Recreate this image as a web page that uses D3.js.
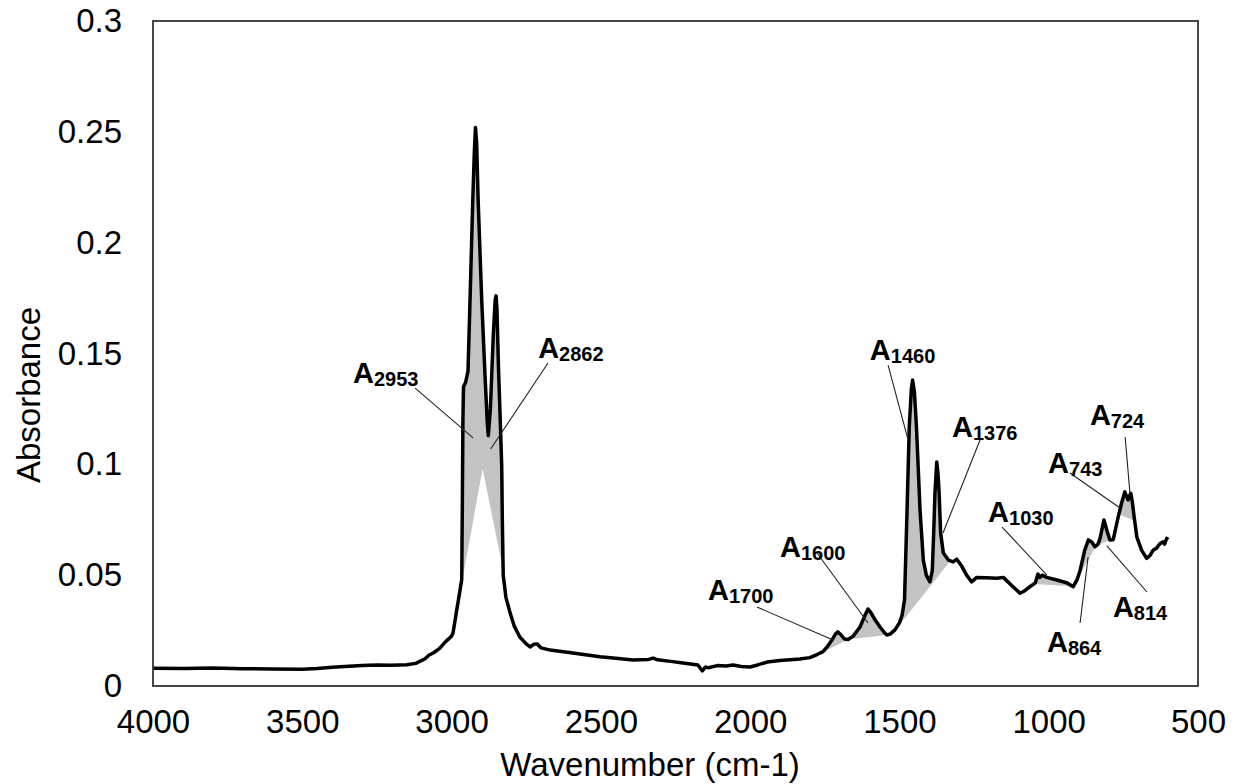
<!DOCTYPE html>
<html>
<head>
  <meta charset="UTF-8">
  <script src="https://d3js.org/d3.v7.min.js"></script>
  <title>FTIR spectrum</title>
  <style type="text/css">
    html, body { margin:0; padding:0; background:#fff; }
    svg text { font-family: "Liberation Sans", Arial, sans-serif; }
  </style>
</head>
<body>
<div id="chart"></div>
<script>
// spectrum: [wavenumber, absorbance]
var spectrum = [
  [4000,0.0080],[3900,0.0079],[3800,0.0081],[3700,0.0078],[3600,0.0077],[3500,0.0076],
  [3450,0.0079],[3400,0.0085],[3300,0.0093],[3250,0.0095],[3200,0.0094],[3150,0.0096],
  [3120,0.0102],[3090,0.0122],[3075,0.0140],[3060,0.0150],[3040,0.0170],[3020,0.0200],
  [3000,0.0225],[2995,0.0240],[2983,0.0340],[2972,0.0430],[2966,0.0480],[2964,0.0800],
  [2962,0.1200],[2960,0.1350],[2953,0.1370],[2945,0.1420],[2938,0.1750],[2929,0.2190],
  [2924,0.2400],[2920,0.2520],[2916,0.2450],[2911,0.2190],[2899,0.1740],[2888,0.1400],
  [2880,0.1180],[2877,0.1130],[2870,0.1250],[2865,0.1420],[2860,0.1590],[2854,0.1740],
  [2851,0.1760],[2848,0.1700],[2843,0.1440],[2837,0.1200],[2832,0.0990],[2830,0.0750],
  [2827,0.0500],[2818,0.0400],[2804,0.0330],[2790,0.0270],[2771,0.0220],[2750,0.0190],
  [2737,0.0176],[2725,0.0188],[2714,0.0190],[2700,0.0172],[2670,0.0162],[2600,0.0150],
  [2503,0.0132],[2450,0.0125],[2392,0.0117],[2340,0.0120],[2325,0.0126],[2310,0.0118],
  [2260,0.0110],[2225,0.0104],[2175,0.0095],[2160,0.0068],[2150,0.0086],[2140,0.0082],
  [2110,0.0092],[2080,0.0090],[2057,0.0095],[2030,0.0088],[2000,0.0086],[1975,0.0095],
  [1943,0.0108],[1900,0.0115],[1833,0.0122],[1800,0.0128],[1776,0.0142],[1756,0.0155],
  [1740,0.0180],[1726,0.0207],[1714,0.0235],[1706,0.0244],[1695,0.0230],[1684,0.0212],
  [1672,0.0210],[1655,0.0225],[1632,0.0266],[1615,0.0320],[1605,0.0347],[1595,0.0330],
  [1580,0.0295],[1565,0.0266],[1550,0.0240],[1542,0.0230],[1530,0.0235],[1515,0.0253],
  [1500,0.0285],[1491,0.0320],[1483,0.0388],[1476,0.0718],[1467,0.1170],[1460,0.1340],
  [1456,0.1380],[1450,0.1330],[1443,0.1170],[1431,0.0794],[1420,0.0568],[1410,0.0500],
  [1398,0.0470],[1390,0.0520],[1385,0.0700],[1381,0.0870],[1375,0.1010],[1371,0.0960],
  [1367,0.0870],[1362,0.0690],[1353,0.0600],[1336,0.0568],[1320,0.0560],[1308,0.0572],
  [1291,0.0540],[1275,0.0500],[1258,0.0470],[1241,0.0490],[1210,0.0488],[1174,0.0486],
  [1152,0.0490],[1125,0.0455],[1096,0.0418],[1080,0.0430],[1063,0.0448],[1045,0.0465],
  [1036,0.0505],[1030,0.0490],[1022,0.0500],[1007,0.0490],[973,0.0478],[940,0.0466],
  [918,0.0448],[905,0.0480],[895,0.0520],[880,0.0610],[867,0.0659],[856,0.0650],
  [845,0.0628],[835,0.0640],[828,0.0666],[815,0.0749],[805,0.0700],[795,0.0659],
  [784,0.0660],[767,0.0764],[755,0.0830],[745,0.0876],[738,0.0850],[734,0.0839],
  [729,0.0860],[725,0.0869],[720,0.0830],[714,0.0764],[705,0.0673],[689,0.0613],
  [672,0.0576],[660,0.0590],[650,0.0613],[640,0.0620],[627,0.0643],[618,0.0650],
  [612,0.0640],[605,0.0666],[600,0.0660]
];

// shaded band baselines (integration limits), [wavenumber, absorbance]
var bandBaselines = [
  [[2996,0.024],[2896,0.098],[2800,0.034]],
  [[1760,0.015],[1672,0.021]],
  [[1672,0.021],[1542,0.023]],
  [[1515,0.025],[1335,0.0555]],
  [[1050,0.046],[925,0.045]],
  [[918,0.0448],[828,0.0666]],
  [[845,0.0628],[795,0.0659]],
  [[765,0.0775],[712,0.0745]]
];

// peak labels: subscript, label anchor, leader line start and end (data units)
var labelNames = ["2953","2862","1460","1376","1600","1700","1030","864","814","743","724"];
var labelAt   = [[3330,0.1367],[2710,0.148],[1599,0.1471],[1324,0.1123],[1900,0.0582],[2141,0.0388],
                 [1203,0.074],[1006,0.0153],[785,0.0311],[1002,0.0961],[862,0.1177]];
var lineFrom  = [[3122,0.1344],[2677,0.1457],[1538,0.1448],[1230,0.111],[1776,0.060],[1977,0.0356],
                 [1156,0.0717],[895,0.0284],[671,0.0424],[929,0.0961],[744,0.1123]];
var lineTo    = [[2928,0.1119],[2869,0.1069],[1471,0.111],[1354,0.069],[1605,0.0284],[1722,0.0208],
                 [1006,0.050],[868,0.0582],[805,0.0632],[761,0.0803],[728,0.0871]];

var xTicks = [4000,3500,3000,2500,2000,1500,1000,500];
var yTicks = [0,0.05,0.1,0.15,0.2,0.25,0.3];

var W = 1236, H = 784;
var margin = {top: 21, left: 153, right: 38, bottom: 98};
var plotW = W - margin.left - margin.right,
    plotH = H - margin.top - margin.bottom;

var svg = d3.select("#chart").append("svg")
  .attr("width", W).attr("height", H);

var x = d3.scaleLinear().domain([4000, 500]).range([0, plotW]);
var y = d3.scaleLinear().domain([0, 0.3]).range([plotH, 0]);

var g = svg.append("g")
  .attr("transform", "translate(" + margin.left + "," + margin.top + ")");

// interpolate the spectrum at a wavenumber (data is descending)
var bis = d3.bisector(function(d) { return -d[0]; }).left;
function specAt(wn) {
  var i = bis(spectrum, -wn);
  if (i <= 0) return spectrum[0][1];
  if (i >= spectrum.length) return spectrum[spectrum.length-1][1];
  var a = spectrum[i-1], b = spectrum[i];
  var t = (a[0] - wn) / (a[0] - b[0]);
  return a[1] + t * (b[1] - a[1]);
}
function baseAt(bl, wn) {
  for (var k = 0; k < bl.length - 1; k++) {
    if (wn <= bl[k][0] && wn >= bl[k+1][0]) {
      var t = (bl[k][0] - wn) / (bl[k][0] - bl[k+1][0]);
      return bl[k][1] + t * (bl[k+1][1] - bl[k][1]);
    }
  }
  return bl[bl.length-1][1];
}

// grey band areas
var area = d3.area()
  .x(function(d) { return x(d.wn); })
  .y0(function(d) { return y(d.base); })
  .y1(function(d) { return y(Math.max(d.base, d.val)); });

bandBaselines.forEach(function(bl) {
  var hi = bl[0][0], lo = bl[bl.length-1][0];
  var wns = spectrum.map(function(d) { return d[0]; })
    .filter(function(w) { return w < hi && w > lo; })
    .concat(bl.map(function(d) { return d[0]; }));
  for (var w = hi; w >= lo; w -= 1) wns.push(w);
  wns = Array.from(new Set(wns)).sort(function(a, b) { return b - a; });
  var pts = wns.map(function(w) { return {wn: w, base: baseAt(bl, w), val: specAt(w)}; });
  g.append("path")
    .datum(pts)
    .attr("d", area)
    .attr("fill", "#c3c3c3")
    .attr("stroke", "none");
});

// spectrum line
var line = d3.line()
  .x(function(d) { return x(d[0]); })
  .y(function(d) { return y(d[1]); });

g.append("path")
  .datum(spectrum)
  .attr("d", line)
  .attr("fill", "none")
  .attr("stroke", "#000")
  .attr("stroke-width", 3.5)
  .attr("stroke-linejoin", "round");

// frame
g.append("rect")
  .attr("x", 0).attr("y", 0)
  .attr("width", plotW).attr("height", plotH)
  .attr("fill", "none")
  .attr("stroke", "#333")
  .attr("stroke-width", 1.8);

// axes (labels only, no tick marks)
var xAxis = g.append("g")
  .attr("transform", "translate(0," + plotH + ")")
  .call(d3.axisBottom(x).tickValues(xTicks).tickSize(0).tickPadding(24).tickFormat(d3.format("d")));
var yAxis = g.append("g")
  .call(d3.axisLeft(y).tickValues(yTicks).tickSize(0).tickPadding(31).tickFormat(function(d) { return String(+d.toFixed(2)); }));
[xAxis, yAxis].forEach(function(a) {
  a.select(".domain").remove();
  a.selectAll("text")
    .attr("font-family", "'Liberation Sans', Arial, sans-serif")
    .attr("font-size", 33)
    .attr("fill", "#000");
});

svg.append("text")
  .attr("transform", "translate(40," + 395 + ") rotate(-90)")
  .attr("text-anchor", "middle")
  .attr("font-size", 33)
  .text("Absorbance");

svg.append("text")
  .attr("x", 650).attr("y", 776)
  .attr("text-anchor", "middle")
  .attr("font-size", 33)
  .text("Wavenumber (cm-1)");

// leader lines and labels
labelNames.forEach(function(name, i) {
  g.append("line")
    .attr("x1", x(lineFrom[i][0])).attr("y1", y(lineFrom[i][1]))
    .attr("x2", x(lineTo[i][0])).attr("y2", y(lineTo[i][1]))
    .attr("stroke", "#222")
    .attr("stroke-width", 1.1);
  var t = g.append("text")
    .attr("x", x(labelAt[i][0])).attr("y", y(labelAt[i][1]))
    .attr("font-weight", "bold");
  t.append("tspan").attr("font-size", 29).text("A");
  t.append("tspan").attr("font-size", 20).attr("dy", 3).text(name);
});
</script>
</body>
</html>
